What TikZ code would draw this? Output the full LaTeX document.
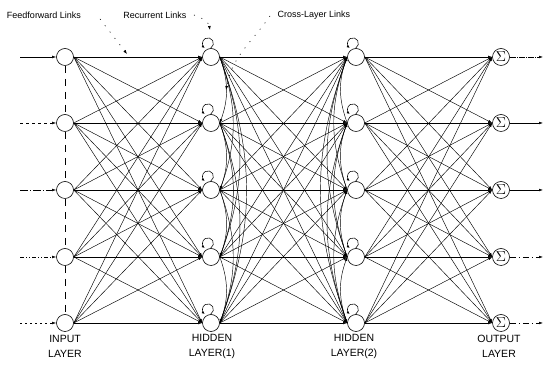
\documentclass[tikz,border=0pt]{standalone}
\usepackage{fontspec}
\setmainfont{Liberation Sans}
\usetikzlibrary{arrows.meta}
\begin{document}
\begin{tikzpicture}[x=1pt,y=1pt,
  neuron/.style={circle,draw,line width=0.6pt,minimum size=17pt,inner sep=0pt},
  link/.style={line width=0.45pt,-{Latex[length=4pt,width=2.6pt]}},
  selfloop/.style={line width=0.55pt,-{Latex[length=3pt,width=2.6pt]}},
  leader/.style={line width=0.6pt,dash pattern=on 1pt off 7pt,-{Latex[length=4pt,width=3pt]}},
  vdash/.style={line width=0.5pt,dash pattern=on 7pt off 6pt},
  toplabel/.style={font=\fontsize{9}{10}\selectfont},
  botlabel/.style={font=\fontsize{10.5}{15}\selectfont,align=center}
]
\useasboundingbox (0,0) rectangle (546,379);

% neurons
\foreach \r/\y in {1/322,2/256,3/189,4/122,5/56} {
  \node[neuron] (i\r) at (65,\y) {};
  \node[neuron] (a\r) at (211,\y) {};
  \node[neuron] (b\r) at (356,\y) {};
  \node[neuron] (o\r) at (501,\y) {\fontsize{14}{14}\selectfont$\Sigma$};
  \coordinate (s\r) at (20,\y);
  \coordinate (e\r) at (543,\y);
}

% feedforward full connections
\foreach \i in {1,...,5} {
  \foreach \j in {1,...,5} {
    \draw[link] (i\i.east) -- (a\j.west);
    \draw[link] (a\i.east) -- (b\j.west);
    \draw[link] (b\i.east) -- (o\j.west);
  }
}

% cross-layer (lateral) links
\foreach \i in {1,...,4} {
  \pgfmathtruncatemacro\s{\i+1}
  \foreach \j in {\s,...,5} {
    \draw[link] (a\i.east) to[out=-70,in=70] (a\j.east);
    \draw[link] (b\j.west) to[out=110,in=-110] (b\i.west);
  }
}

% recurrent self loops
\foreach \r in {1,...,5} {
  \draw[selfloop] ([shift={(-0.3,0.1)}]a\r.north) arc[start angle=-60,end angle=235,radius=5.5];
  \draw[selfloop] ([shift={(-0.3,0.1)}]b\r.north) arc[start angle=-60,end angle=235,radius=5.5];
}

% input arrows
\draw[link] (s1) -- (i1);
\draw[link,dashed] (s2) -- (i2);
\draw[link,dash pattern=on 8pt off 2pt on 1pt off 2pt] (s3) -- (i3);
\draw[link,dash pattern=on 4pt off 2pt on 1pt off 2pt on 1pt off 2pt] (s4) -- (i4);
\draw[link,dash pattern=on 2pt off 3pt] (s5) -- (i5);

% output arrows
\draw[link,dash pattern=on 6pt off 1pt on 1pt off 1pt] (o1) -- (e1);
\draw[link] (o2) -- (e2);
\draw[link] (o3) -- (e3);
\draw[link,dash pattern=on 6pt off 3pt on 1pt off 3pt] (o4) -- (e4);
\draw[link,dash pattern=on 6pt off 3pt on 1pt off 3pt] (o5) -- (e5);

% vertical dashes between inputs
\draw[vdash] (i1.south) -- (i2.north);
\draw[vdash] (i2.south) -- (i3.north);
\draw[vdash] (i3.south) -- (i4.north);
\draw[vdash] (i4.south) -- (i5.north);

% top labels and leaders
\node[toplabel] (ffl) at (44,364) {Feedforward Links};
\node[toplabel] (rl) at (155,364) {Recurrent Links};
\node[toplabel] (cl) at (314,364) {Cross-Layer Links};
\coordinate (ffs) at (100,360);
\coordinate (ffe) at (127,325);
\coordinate (rs) at (194,364);
\coordinate (re) at (210,349);
\coordinate (cs) at (270,363);
\coordinate (ce) at (226,289);
\draw[leader] (ffs) -- (ffe);
\draw[leader] (rs) to[out=-20,in=100] (re);
\draw[leader] (cs) to[out=-125,in=80] (ce);

% bottom labels
\node[botlabel] (li) at (65,33) {INPUT\\LAYER};
\node[botlabel] (lh1) at (212,33) {HIDDEN\\LAYER(1)};
\node[botlabel] (lh2) at (354,33) {HIDDEN\\LAYER(2)};
\node[botlabel] (lo) at (499,33) {OUTPUT\\LAYER};
\end{tikzpicture}
\end{document}
